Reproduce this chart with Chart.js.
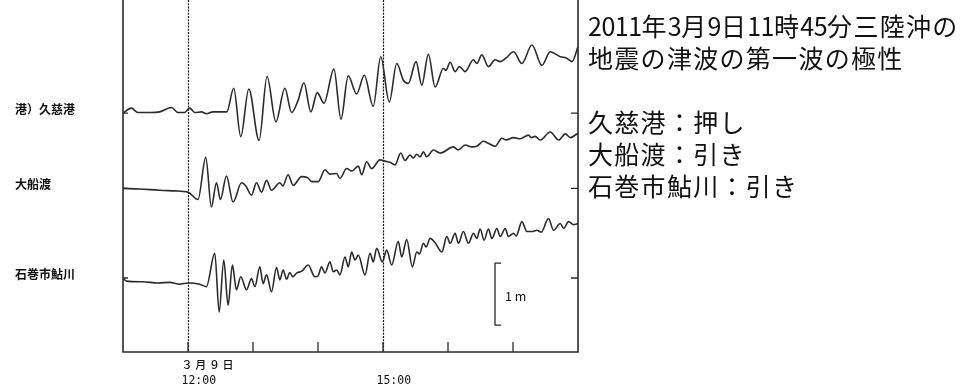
<!DOCTYPE html>
<html>
<head>
<meta charset="utf-8">
<script src="https://cdn.jsdelivr.net/npm/chart.js@4.4.1/dist/chart.umd.min.js"></script>
<style>
body { margin: 0; background: #fff; }
#wrap { position: relative; width: 973px; height: 389px; }
#note { position: absolute; left: 588px; top: 8.5px; font-family: "Noto Sans CJK JP"; font-size: 25px; line-height: 32px; color: #111; letter-spacing: 1.3px; white-space: nowrap; }
#note .n { letter-spacing: -0.5px; }
</style>
</head>
<body>
<div id="wrap">
<canvas id="tsunamiChart" width="973" height="389"></canvas>
<div id="note"><span class="n">2011</span>年<span class="n">3</span>月<span class="n">9</span>日<span class="n">11</span>時<span class="n">45</span>分三陸沖の<br>地震の津波の第一波の極性<br><br>久慈港：押し<br>大船渡：引き<br>石巻市鮎川：引き</div>
</div>
<script>
// time = minutes after 11:00 on 9 March 2011, level = cm from each station's start level
var stations = ['港）久慈港', '大船渡', '石巻市鮎川'];
var baseLevels = [385.5, 264.0, 119.4];

var kujiTime = [0, 7.7, 13.8, 24.6, 33.8, 44.7, 50.8, 56.9, 61.6, 66.2, 72.4, 77.0, 83.1, 89.3, 95.8, 102.2, 108.7, 116.1, 125.6, 133.0, 141.1, 149.4, 155.6, 161.7, 167.0, 173.4, 179.3, 185.5, 194.7, 201.2, 207.9, 215.7, 222.7, 231.0, 237.9, 245.8, 252.7, 258.8, 263.4, 270.5, 275.8, 281.9, 288.1, 295.7, 298.2, 301.9, 306.6, 310.5, 315.8, 323.5, 326.6, 331.2, 337.3, 343.5, 348.2, 353.7, 360.5, 368.2, 377.5, 386.7, 394.4, 403.6, 409.2, 414.5, 420];
var kujiLevel = [0, 8, 1, 1, 2, 9, 1, 1, 8, 1, 2, -1, 2, 2, 2, 40, -38, 39, -44, 59, -14, 40, 1, 21, 49, 2, 33, 16, 71, -10, 60, 31, 61, 11, 91, 18, 80, 53, 48, 83, 45, 95, 42, 72, 69, 82, 67, 75, 67, 86, 80, 94, 75, 86, 83, 89, 99, 80, 110, 77, 99, 91, 89, 83, 107];

var ofunatoTime = [0, 15.3, 33.8, 47.7, 60.0, 69.2, 76.4, 81.6, 86.3, 89.9, 95.5, 101.6, 109.4, 113.4, 118.6, 123.2, 127.9, 132.5, 137.1, 144.8, 147.6, 152.4, 157.1, 164.8, 170.7, 174.1, 180.2, 186.4, 191.0, 197.2, 200.3, 206.4, 211.3, 217.2, 220.3, 224.9, 229.5, 237.2, 241.8, 246.5, 251.1, 256.4, 260.3, 264.9, 268.0, 271.2, 274.2, 277.3, 280.4, 286.5, 292.7, 305.0, 309.3, 315.8, 322.0, 326.6, 332.7, 337.1, 343.6, 349.7, 353.7, 360.5, 366.6, 374.3, 376.8, 380.5, 385.1, 394.4, 402.1, 408.3, 412.9, 420];
var ofunatoLevel = [0, -1, -3, -4, -6, -18, 50, -30, 9, -18, 20, -22, 9, 4, -11, 9, -6, 13, -3, 9, 4, 22, 5, 19, 17, 11, 11, 30, 23, 24, 16, 32, 28, 36, 22, 43, 32, 46, 44, 42, 38, 57, 45, 54, 49, 55, 51, 59, 51, 62, 57, 67, 62, 70, 67, 68, 76, 73, 68, 81, 78, 82, 80, 86, 82, 84, 78, 91, 78, 88, 82, 89];

var ayukawaTime = [0, 3.1, 18.4, 32.3, 43.1, 52.3, 60.0, 70.8, 77.0, 84.7, 88.8, 93.0, 97.0, 101.0, 104.7, 108.7, 114.0, 118.6, 121.7, 126.3, 129.3, 132.5, 137.1, 141.7, 144.8, 147.8, 151.0, 154.0, 156.8, 160.2, 165.1, 170.9, 177.1, 179.9, 183.3, 186.4, 191.0, 194.1, 197.2, 200.3, 204.9, 207.9, 211.1, 214.1, 217.2, 223.4, 228.0, 231.0, 234.2, 239.3, 243.4, 248.0, 254.1, 257.3, 261.9, 267.1, 271.2, 273.7, 277.3, 279.8, 283.5, 288.1, 294.3, 298.9, 302.0, 306.6, 309.6, 314.2, 318.9, 323.5, 326.6, 329.7, 333.3, 337.3, 340.5, 345.1, 348.2, 352.8, 355.8, 360.5, 363.0, 368.2, 372.8, 377.5, 382.1, 386.1, 392.8, 397.4, 403.6, 406.7, 411.3, 415.9, 420];
var ayukawaLevel = [0, -5, -6, -8, -7, -10, -8, -10, -14, 40, -55, 29, -44, 21, -19, 2, -19, -1, -14, 18, -9, 5, -22, 17, -3, 13, -2, 9, 2, 8, 11, 21, 2, 3, 18, 8, 26, 10, 13, 5, 34, 18, 42, 29, 37, 5, 40, 26, 48, 26, 45, 21, 59, 34, 62, 18, 42, 39, 56, 50, 64, 57, 42, 67, 56, 72, 56, 75, 56, 72, 64, 79, 61, 79, 64, 80, 67, 80, 67, 72, 68, 91, 75, 75, 77, 74, 96, 77, 88, 80, 91, 86, 88];

var hourTicks = [12, 13, 14, 15, 16, 17];
var markedHours = [12, 15];
var hourLabels = ['12:00', '15:00'];
var dateLabel = '３月９日';
var scaleBarTime = 343.4;
var scaleBarBase = 43.5;

function toPoints(times, levels, base) {
	return times.map(function (t, i) {
		return { x: t, y: base + levels[i] };
	});
}

function minutesOf(h) {
	return (h - 11) * 60;
}

var frame = {
	id: 'frame',
	beforeDatasetsDraw: function (chart) {
		var ctx = chart.ctx, a = chart.chartArea, x = chart.scales.x;
		ctx.save();
		ctx.strokeStyle = '#111';
		ctx.lineWidth = 1.2;
		ctx.setLineDash([2, 1.2]);
		markedHours.forEach(function (h) {
			var px = Math.round(x.getPixelForValue(minutesOf(h))) + 0.5;
			ctx.beginPath();
			ctx.moveTo(px, a.top);
			ctx.lineTo(px, a.bottom);
			ctx.stroke();
		});
		ctx.restore();
	},
	afterDatasetsDraw: function (chart) {
		var ctx = chart.ctx, a = chart.chartArea, x = chart.scales.x, y = chart.scales.y;
		ctx.save();
		ctx.strokeStyle = '#2a2a2a';
		ctx.lineWidth = 1.6;
		ctx.beginPath();
		ctx.moveTo(a.left, a.top);
		ctx.lineTo(a.left, a.bottom);
		ctx.lineTo(a.right, a.bottom);
		ctx.lineTo(a.right, a.top);
		ctx.stroke();

		ctx.lineWidth = 1.3;
		hourTicks.forEach(function (h) {
			var px = x.getPixelForValue(minutesOf(h));
			ctx.beginPath();
			ctx.moveTo(px, a.bottom);
			ctx.lineTo(px, a.bottom - 10);
			ctx.stroke();
		});
		baseLevels.forEach(function (b) {
			var py = y.getPixelForValue(b);
			ctx.beginPath();
			ctx.moveTo(a.left, py);
			ctx.lineTo(a.left + 5, py);
			ctx.moveTo(a.right, py);
			ctx.lineTo(a.right - 7, py);
			ctx.stroke();
		});

		var sx = x.getPixelForValue(scaleBarTime);
		var sy0 = y.getPixelForValue(scaleBarBase);
		var sy1 = y.getPixelForValue(scaleBarBase + 100);
		ctx.beginPath();
		ctx.moveTo(sx + 6, sy1);
		ctx.lineTo(sx, sy1);
		ctx.lineTo(sx, sy0);
		ctx.lineTo(sx + 6, sy0);
		ctx.stroke();

		ctx.fillStyle = '#111';
		ctx.textBaseline = 'middle';
		ctx.textAlign = 'left';
		ctx.font = '12.5px "Noto Sans CJK JP"';
		ctx.fillText('1 m', sx + 10, (sy0 + sy1) / 2 + 2);

		ctx.font = 'bold 12px "Noto Sans CJK JP"';
		stations.forEach(function (s, i) {
			ctx.fillText(s, 15, y.getPixelForValue(baseLevels[i]) - 4);
		});

		var p12 = x.getPixelForValue(minutesOf(markedHours[0]));
		ctx.font = '500 11px "Noto Sans CJK JP"';
		ctx.letterSpacing = '2.7px';
		ctx.fillText(dateLabel, p12 - 6.5, a.bottom + 13);
		ctx.letterSpacing = '0px';
		ctx.font = '11.5px "DejaVu Sans Mono"';
		markedHours.forEach(function (h, i) {
			ctx.fillText(hourLabels[i], x.getPixelForValue(minutesOf(h)) - 6.5, a.bottom + 29);
		});
		ctx.restore();
	}
};

var ctx = document.getElementById('tsunamiChart').getContext('2d');
var lineStyle = { borderColor: '#2b2b2b', borderWidth: 1.6, pointRadius: 0, cubicInterpolationMode: 'monotone', fill: false };
var myChart = new Chart(ctx, {
	type: 'line',
	data: {
		datasets: [
			Object.assign({ label: stations[0], data: toPoints(kujiTime, kujiLevel, baseLevels[0]) }, lineStyle),
			Object.assign({ label: stations[1], data: toPoints(ofunatoTime, ofunatoLevel, baseLevels[1]) }, lineStyle),
			Object.assign({ label: stations[2], data: toPoints(ayukawaTime, ayukawaLevel, baseLevels[2]) }, lineStyle)
		]
	},
	options: {
		responsive: false,
		animation: false,
		layout: {
			padding: { left: 123, right: 395, top: 0, bottom: 37 }
		},
		scales: {
			x: { type: 'linear', display: false, min: 0, max: 420 },
			y: { type: 'linear', display: false, min: 0, max: 568 }
		},
		plugins: {
			legend: { display: false },
			tooltip: { enabled: false }
		}
	},
	plugins: [frame]
});
</script>
</body>
</html>
